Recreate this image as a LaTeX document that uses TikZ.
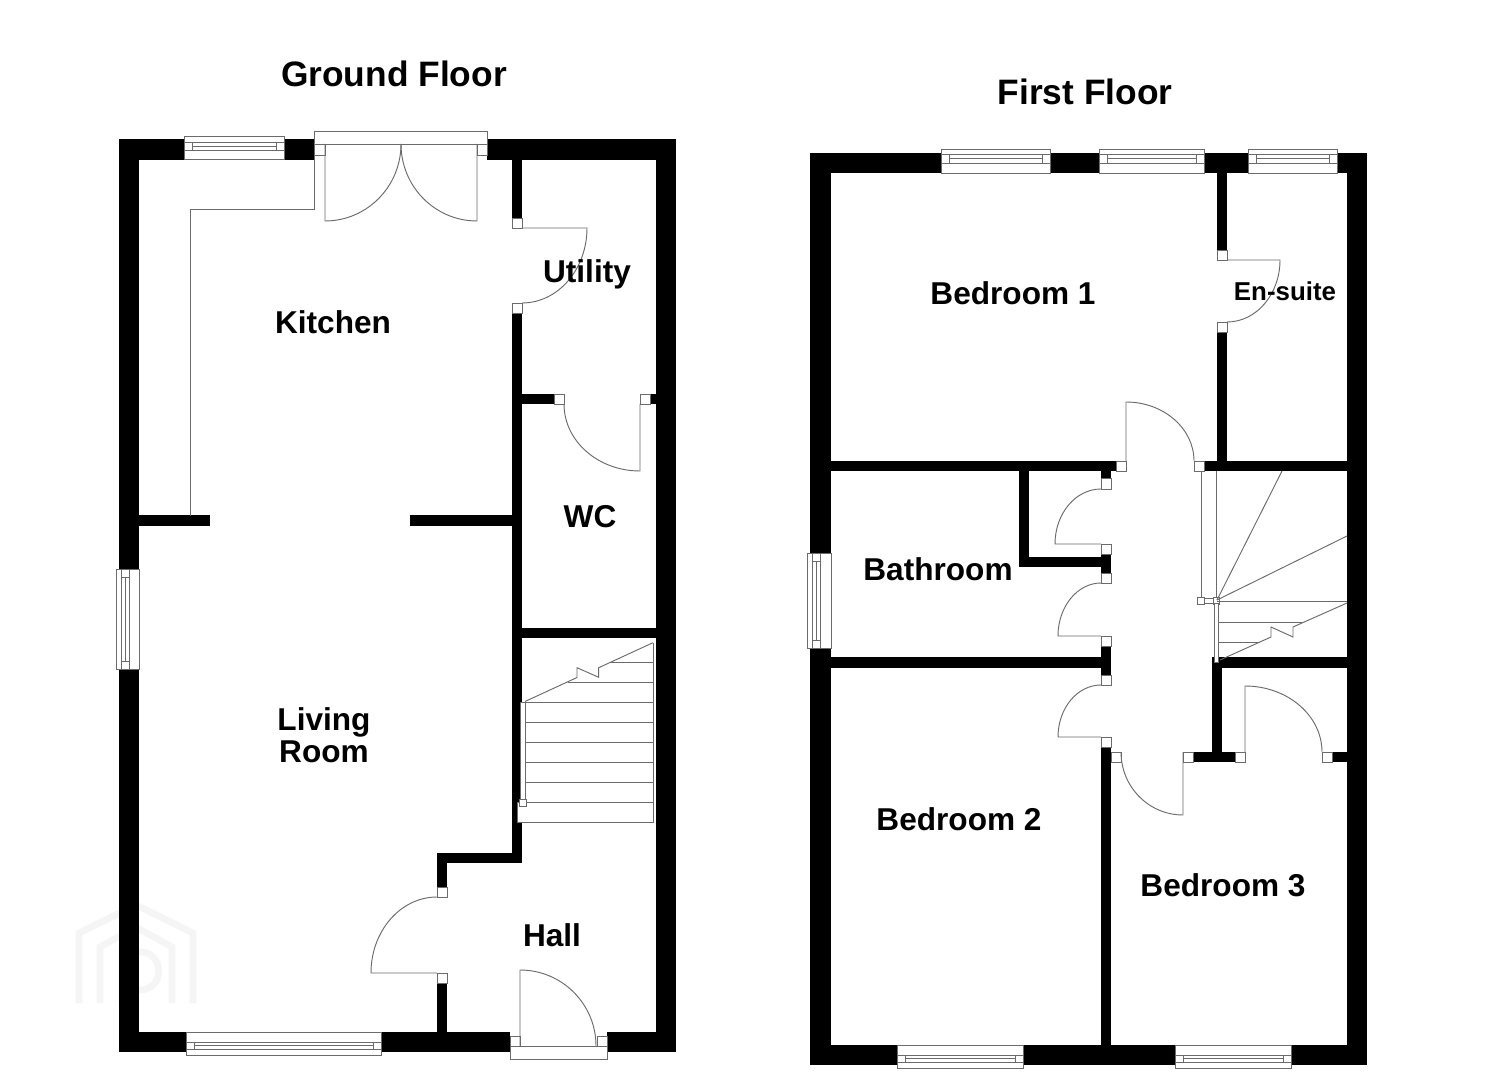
\documentclass[tikz,border=0pt]{standalone}
\usepackage{fontspec}
\setmainfont{Liberation Sans}
\newcommand\wallr[4]{\fill[black] (#1,#2) rectangle (#3,#4);}
\newcommand\jambr[4]{\draw[thinl,fill=white] (#1,#2) rectangle (#3,#4);}
\newcommand\doorleaf[6]{%
  \pgfmathsetmacro\ca{#3+0.5523*(#5-#1)}\pgfmathsetmacro\cb{#4+0.5523*(#6-#2)}%
  \pgfmathsetmacro\cc{#5+0.5523*(#3-#1)}\pgfmathsetmacro\cd{#6+0.5523*(#4-#2)}%
  \draw[thinl] (#1,#2) -- (#3,#4) .. controls (\ca,\cb) and (\cc,\cd) .. (#5,#6);}
\newcommand\hwin[7]{%
  \draw[thinl,fill=white] (#1,#3) rectangle (#2,#7);
  \draw[thinl] (#1,#4) -- (#2,#4) (#1,#6) -- (#2,#6);
  \pgfmathsetmacro\wa{#1+8}\pgfmathsetmacro\wb{#2-8}%
  \draw[thinl] (\wa,#4) rectangle (\wb,#6) (\wa,#5) -- (\wb,#5);}
\newcommand\vwin[4]{%
  \pgfmathsetmacro\wa{#3+8}\pgfmathsetmacro\wb{#4-8}%
  \pgfmathsetmacro\xa{#1+5}\pgfmathsetmacro\xb{#1+9}\pgfmathsetmacro\xc{#1+13}%
  \draw[thinl,fill=white] (#1,#3) rectangle (#2,#4);
  \draw[thinl] (\xa,#3) -- (\xa,#4) (\xc,#3) -- (\xc,#4);
  \draw[thinl] (\xa,\wa) rectangle (\xc,\wb) (\xb,\wa) -- (\xb,\wb);}
\tikzset{
  thinl/.style={draw=black!58,line width=0.7pt},
  lab/.style={font=\bfseries\fontsize{23.7}{23.7}\selectfont,text=black,inner sep=0pt},
  ttl/.style={font=\bfseries\fontsize{26.5}{26.5}\selectfont,text=black,inner sep=0pt},
  small/.style={font=\bfseries\fontsize{19.4}{19.4}\selectfont,text=black,inner sep=0pt},
  logoline/.style={draw=black!4,line width=5pt}
}
\begin{document}
\begin{tikzpicture}[x=0.75pt,y=-0.75pt]
\useasboundingbox (0,0) rectangle (1485,1080);
\fill[white] (0,0) rectangle (1485,1080);
% faint logo
\draw[logoline] (79,1003) -- (79,933) -- (136,905) -- (193,933) -- (193,1003);
\draw[logoline] (100,1003) -- (100,947) -- (136,927) -- (172,947) -- (172,1003);
\draw[logoline] (122,1003) -- (122,952) -- (140,952) .. controls (165,952) and (165,990) .. (140,990) -- (122,990);
%
% ===== GROUND FLOOR =====
\wallr{119}{139}{139}{1052}
\wallr{656}{139}{676}{1052}
\wallr{119}{139}{314}{160}
\wallr{487}{139}{676}{160}
\wallr{119}{1032}{510}{1052}
\wallr{607}{1032}{676}{1052}
% utility wall
\wallr{512}{160}{522}{218}
\wallr{512}{313}{522}{863}
\wallr{522}{394}{554}{404}
\wallr{650}{394}{656}{404}
\jambr{512}{218}{522}{228}
\jambr{512}{303}{522}{313}
\jambr{554}{394}{564}{404}
\jambr{640}{394}{650}{404}
\wallr{139}{515}{210}{526}
\wallr{410}{515}{512}{526}
\wallr{522}{628}{656}{638}
\wallr{437}{853}{522}{863}
\wallr{437}{863}{447}{887}
\wallr{437}{983}{447}{1032}
\jambr{437}{887}{447}{897}
\jambr{437}{973}{447}{983}
% windows ground
\hwin{184}{284}{136}{142}{146}{150}{159.5}{}
\hwin{186}{381}{1055}{1049}{1045.5}{1042}{1032}{}
\vwin{116}{139}{569}{669}
% french doors
\draw[thinl,fill=white] (314,131) rectangle (487,144);
\jambr{314}{144}{325}{155}
\jambr{477}{144}{487}{155}
\doorleaf{325}{144}{325}{221}{401}{144}
\doorleaf{477}{144}{477}{221}{401}{144}
\draw[thinl] (314,155) -- (314,209) -- (190,209) -- (190,516);
% other ground doors
\doorleaf{522}{228}{587}{228}{522}{303}
\doorleaf{640}{404}{640}{471}{564}{404}
\doorleaf{437}{973}{371}{973}{437}{897}
% entrance door
\draw[thinl,fill=white] (510,1046) rectangle (607,1059);
\jambr{510}{1036}{520}{1046}
\jambr{597}{1036}{607}{1046}
\doorleaf{520}{1046}{520}{970}{596}{1046}
% ground stairs
\draw[thinl,fill=white] (517,802) rectangle (653,822);
\draw[thinl] (653,802) -- (653,643);
\draw[thinl] (525,702) -- (653,702) (525,722) -- (653,722) (525,742) -- (653,742) (525,762) -- (653,762) (525,782) -- (653,782);
\draw[thinl] (568,682) -- (653,682) (610,662) -- (653,662);
\draw[thinl,fill=white] (520.5,702) rectangle (525.5,802);
\jambr{519.5}{799}{526.5}{806}
\draw[thinl] (525,701.5) -- (577,677.5) -- (577,667.7) -- (598.7,677.3) -- (598.7,667.7) -- (653,642.7);
%
% ===== FIRST FLOOR =====
\wallr{810}{153}{831}{1065}
\wallr{1347}{153}{1367}{1065}
\wallr{810}{153}{1367}{173}
\wallr{810}{1045}{1367}{1065}
% en-suite wall
\wallr{1217}{173}{1227}{250}
\wallr{1217}{332}{1227}{465}
\jambr{1217}{250}{1227}{260}
\jambr{1217}{322}{1227}{332}
% horizontals
\wallr{831}{461}{1116}{471}
\wallr{1204}{461}{1347}{471}
\jambr{1116}{461}{1126}{471}
\jambr{1194}{461}{1204}{471}
% cupboard
\wallr{1019}{471}{1029}{567}
\wallr{1019}{557}{1111}{567}
\wallr{1101}{471}{1111}{478}
\wallr{1101}{554}{1111}{573}
\wallr{1101}{646}{1111}{675}
\wallr{1101}{747}{1111}{1045}
\jambr{1101}{478}{1111}{489}
\jambr{1101}{544}{1111}{554}
\jambr{1101}{573}{1111}{583}
\jambr{1101}{636}{1111}{646}
\jambr{1101}{675}{1111}{685}
\jambr{1101}{737}{1111}{747}
\wallr{831}{657}{1101}{668}
\wallr{1212}{657}{1347}{668}
\wallr{1212}{657}{1222}{762}
\wallr{1193}{752}{1235}{762}
\wallr{1332}{752}{1347}{762}
\jambr{1183}{752}{1193}{762}
\jambr{1235}{752}{1245}{762}
\jambr{1322}{752}{1332}{762}
\jambr{1111}{752}{1121}{762}
% windows first
\hwin{941}{1050}{149}{154}{158.5}{163}{173}{}
\hwin{1099}{1204}{149}{154}{158.5}{163}{173}{}
\hwin{1248}{1337}{149}{154}{158.5}{163}{173}{}
\hwin{897}{1023}{1068}{1062}{1058.5}{1055}{1045}{}
\hwin{1175}{1291}{1068}{1062}{1058.5}{1055}{1045}{}
\vwin{807}{831}{553}{648}
% doors first
\doorleaf{1227}{260}{1280}{260}{1227}{322}
\doorleaf{1126}{461}{1126}{402}{1194}{461}
\doorleaf{1101}{544}{1055}{544}{1101}{489}
\doorleaf{1101}{636}{1058}{636}{1101}{583}
\doorleaf{1101}{737}{1058}{737}{1101}{685}
\doorleaf{1183}{752}{1183}{815}{1121}{752}
\doorleaf{1245}{752}{1245}{686}{1322}{752}
% first stairs
\draw[thinl] (1201,471) -- (1201,598) (1216,471) -- (1216,598);
\jambr{1197}{597}{1204}{604}
\jambr{1204}{598}{1213}{603}
\jambr{1213}{597}{1219}{604}
\draw[thinl] (1217,600) -- (1282,471);
\draw[thinl] (1217,600) -- (1347,536);
\draw[thinl] (1217,601) -- (1347,601);
\draw[thinl,fill=white] (1214,603) rectangle (1218,662);
\draw[thinl] (1218,622) -- (1302,622) (1218,642) -- (1260,642);
\draw[thinl] (1347,603) -- (1293,627) -- (1293,637) -- (1271,627) -- (1271,637) -- (1220,660);
%
% ===== TEXT =====
\node[ttl] (gf) at (394,74) {Ground Floor};
\node[ttl] (ff) at (1085,92) {First Floor};
\node[lab] (kit) at (333,322) {Kitchen};
\node[lab] (uti) at (587,274) {Utility};
\node[lab] (wc) at (590,517) {WC};
\node[lab,align=center] (liv) at (324,735.5) {Living\\Room};
\node[lab] (hall) at (552,935) {Hall};
\node[lab] (b1) at (1013,293) {Bedroom 1};
\node[small] (ens) at (1285,291) {En-suite};
\node[lab] (bath) at (938,569) {Bathroom};
\node[lab] (b2) at (959,819) {Bedroom 2};
\node[lab] (b3) at (1223,885) {Bedroom 3};
\end{tikzpicture}
\end{document}
